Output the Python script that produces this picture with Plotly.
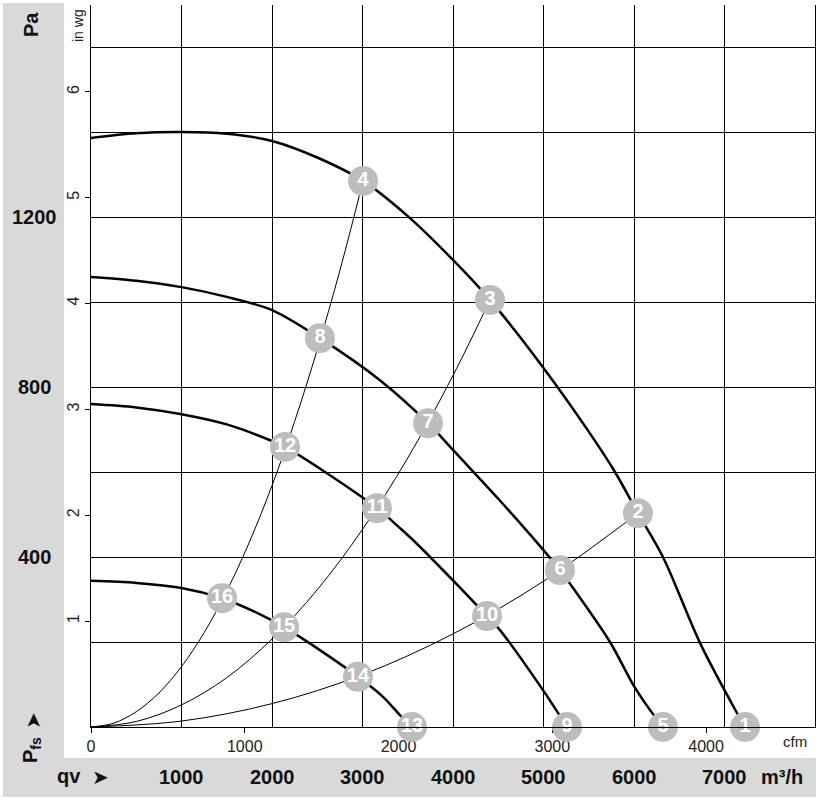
import plotly.graph_objects as go

W, H = 821, 801
def xp(px): return px / W
def yp(py): return (H - py) / H

# ---- data (m³/h, Pa) ----
c1_q  = [0, 500, 1000, 1500, 2000, 2500, 3006, 3500, 4000, 4409, 5000, 5500, 5790, 6044, 6320, 6729, 7138, 7227]
c1_pa = [1386, 1397, 1400, 1396, 1379, 1340, 1285, 1202, 1099, 1005, 845, 695, 600, 503, 400, 198, 33, 0]

c2_q  = [0, 500, 1000, 1500, 2000, 2530, 3193, 3724, 4000, 4500, 4884, 5182, 5450, 5735, 6000, 6160, 6320]
c2_pa = [1059, 1050, 1035, 1012, 981, 915, 816, 715, 652, 537, 445, 369, 290, 200, 96, 45, 0]

c3_q  = [0, 500, 1000, 1500, 2000, 2144, 2586, 3160, 3414, 3558, 4000, 4376, 4519, 5000, 5260]
c3_pa = [760, 752, 736, 712, 673, 659, 600, 515, 468, 440, 345, 261, 228, 85, 0]

c4_q  = [0, 500, 1000, 1448, 1800, 2133, 2550, 2950, 3227, 3414, 3547]
c4_pa = [344, 339, 327, 303, 272, 235, 178, 118, 71, 28, 0]

sA_q  = [0, 250, 500, 750, 1000, 1250, 1500, 1750, 2000, 2250, 2500, 2750, 3006]
sA_pa = [0, 9, 36, 80, 142, 222, 320, 435, 568, 719, 888, 1074, 1285]
sB_q  = [0, 500, 1000, 1500, 2000, 2500, 3000, 3500, 4000, 4409]
sB_pa = [0, 13, 52, 116, 207, 323, 465, 633, 827, 1005]
sC_q  = [0, 1000, 2000, 3000, 4000, 5000, 6044]
sC_pa = [0, 14, 55, 123, 219, 343, 503]

pt_labels = ["1", "2", "3", "4", "5", "6", "7", "8", "9", "10", "11", "12", "13", "14", "15", "16"]
pt_q  = [7227, 6044, 4409, 3006, 6320, 5182, 3724, 2530, 5260, 4376, 3160, 2144, 3547, 2950, 2133, 1448]
pt_pa = [0, 503, 1005, 1285, 0, 369, 715, 915, 0, 261, 515, 659, 0, 118, 235, 303]

pa_ticks = [400, 800, 1200]
qv_ticks = [1000, 2000, 3000, 4000, 5000, 6000, 7000]
cfm_ticks = [0, 1000, 2000, 3000, 4000]
inwg_ticks = [1, 2, 3, 4, 5, 6]

CFM = 1.69901   # m³/h per cfm
INWG = 249.089  # Pa per in wg
QMAX, PMAX = 8000, 1700

FONT = "Liberation Sans, Arial, sans-serif"
GRAY = "#d9d9d9"

fig = go.Figure()
for q, p in [(sA_q, sA_pa), (sB_q, sB_pa), (sC_q, sC_pa)]:
    fig.add_trace(go.Scatter(x=q, y=p, mode="lines", line=dict(color="black", width=1, shape="spline", smoothing=1.0),
                             hoverinfo="skip", showlegend=False))
for q, p in [(c1_q, c1_pa), (c2_q, c2_pa), (c3_q, c3_pa), (c4_q, c4_pa)]:
    fig.add_trace(go.Scatter(x=q, y=p, mode="lines", line=dict(color="black", width=2.5, shape="spline", smoothing=0.9),
                             hoverinfo="skip", showlegend=False))
fig.add_trace(go.Scatter(x=pt_q, y=pt_pa, mode="markers+text", text=["<b>%s</b>" % t for t in pt_labels],
                         textposition="middle center",
                         textfont=dict(family=FONT, size=20, color="white"),
                         marker=dict(size=30, color="#bdbdbd", line=dict(width=0)),
                         cliponaxis=False, showlegend=False, hoverinfo="skip"))
# invisible trace to activate secondary axes
fig.add_trace(go.Scatter(x=[0], y=[0], xaxis="x2", yaxis="y2", mode="markers",
                         marker=dict(opacity=0), showlegend=False, hoverinfo="skip"))

xdom = [xp(91), xp(815)]
ydom = [yp(727), yp(727 - PMAX * 0.425)]

fig.update_layout(
    template="none",
    width=W, height=H, margin=dict(l=0, r=0, t=0, b=0, pad=0, autoexpand=False),
    paper_bgcolor="white", plot_bgcolor="white",
    font=dict(family=FONT, color="#111"),
    xaxis=dict(domain=xdom, range=[0, QMAX], dtick=1000, showgrid=True, gridcolor="black", gridwidth=1,
               showline=True, linecolor="black", linewidth=1, showticklabels=False, ticks="",
               zeroline=False, fixedrange=True, automargin=False),
    yaxis=dict(domain=ydom, range=[0, PMAX], dtick=200, showgrid=True, gridcolor="black", gridwidth=1,
               showline=True, linecolor="black", linewidth=1, mirror=True, showticklabels=False, ticks="",
               zeroline=False, fixedrange=True, automargin=False),
    xaxis2=dict(overlaying="x", anchor="y", side="bottom", range=[0, QMAX / CFM],
                tickvals=cfm_ticks, ticktext=[str(v) for v in cfm_ticks],
                ticks="outside", ticklen=5, tickcolor="black", showgrid=False, showline=False,
                zeroline=False, tickfont=dict(size=16, color="#222"), layer="below traces",
                automargin=False, fixedrange=True),
    yaxis2=dict(overlaying="y", anchor="x", side="left", range=[0, PMAX / INWG],
                tickvals=inwg_ticks, ticktext=[str(v) for v in inwg_ticks], tickangle=-90,
                ticks="outside", ticklen=5, tickcolor="black", showgrid=False, showline=False,
                zeroline=False, tickfont=dict(size=16, color="#222"), layer="below traces",
                automargin=False, fixedrange=True),
)

shapes = [
    dict(type="rect", xref="paper", yref="paper", x0=xp(3), x1=xp(64), y0=yp(797), y1=yp(3),
         fillcolor=GRAY, line=dict(width=0), layer="below"),
    dict(type="rect", xref="paper", yref="paper", x0=xp(3), x1=xp(816), y0=yp(797), y1=yp(758),
         fillcolor=GRAY, line=dict(width=0), layer="below"),
]
fig.update_layout(shapes=shapes)

ann = []
bold = dict(family=FONT, size=20, color="#111")
C = dict(showarrow=False, xanchor="center", yanchor="middle")
for v in pa_ticks:
    ann.append(dict(x=xp(34), xref="paper", y=v, yref="y", text="<b>%d</b>" % v, font=bold, **C))
for v in qv_ticks:
    ann.append(dict(x=v, xref="x", y=yp(777), yref="paper", text="<b>%d</b>" % v, font=bold, **C))
ann += [
    dict(x=xp(782), y=yp(777), xref="paper", yref="paper", text="<b>m³/h</b>", font=bold, **C),
    dict(x=xp(69), y=yp(776), xref="paper", yref="paper", text="<b>qv</b>", font=bold, **C),
    dict(x=xp(100), y=yp(777), xref="paper", yref="paper", text="➤",
         font=dict(family="DejaVu Sans", size=20, color="#111"), **C),
    dict(x=xp(31), y=yp(25), xref="paper", yref="paper", text="<b>Pa</b>", font=bold, textangle=-90, **C),
    dict(x=xp(31), y=yp(750), xref="paper", yref="paper", text="<b>P<sub>fs</sub></b>",
         font=bold, textangle=-90, **C),
    dict(x=xp(33), y=yp(721), xref="paper", yref="paper", text="➤",
         font=dict(family="DejaVu Sans", size=20, color="#111"), textangle=-90, **C),
    dict(x=xp(78), y=yp(26), xref="paper", yref="paper", text="in wg",
         font=dict(family=FONT, size=14, color="#222"), textangle=-90, **C),
    dict(x=xp(795), y=yp(741), xref="paper", yref="paper", text="cfm",
         font=dict(family=FONT, size=15, color="#222"), **C),
]
fig.update_layout(annotations=ann)

fig.write_html("out.html")
